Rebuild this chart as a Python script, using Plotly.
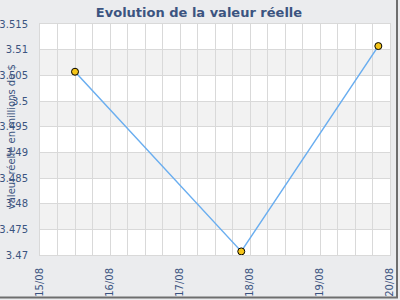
import plotly.graph_objects as go

dates = ["2011-08-15 12:00", "2011-08-17 21:00", "2011-08-19 20:00"]
values = [3.5057, 3.4707, 3.5107]
x_ticks = ["2011-08-15", "2011-08-16", "2011-08-17", "2011-08-18", "2011-08-19", "2011-08-20"]
x_tick_labels = ["15/08", "16/08", "17/08", "18/08", "19/08", "20/08"]
y_ticks = [3.47, 3.475, 3.48, 3.485, 3.49, 3.495, 3.5, 3.505, 3.51, 3.515]
y_tick_labels = ["3.47", "3.475", "3.48", "3.485", "3.49", "3.495", "3.5", "3.505", "3.51", "3.515"]

TXT = "#3b5480"
FONT = "DejaVu Sans"

fig = go.Figure()
fig.add_trace(go.Scatter(
    x=dates, y=values, mode="lines+markers",
    line=dict(color="#6aaef0", width=1.5),
    marker=dict(color="#f5c518", size=7, line=dict(color="#000000", width=1)),
    hoverinfo="x+y",
))

shapes = []
for i in range(len(y_ticks) - 1):
    if i % 2 == 1:
        shapes.append(dict(type="rect", xref="paper", yref="y", x0=0, x1=1,
                           y0=y_ticks[i], y1=y_ticks[i + 1],
                           fillcolor="#f2f2f2", line=dict(width=0), layer="below"))
# outer border shadow (right & bottom), in pixel-based paper fractions
PW, PH = 350.0, 231.0
shapes.append(dict(type="line", xref="paper", yref="paper", x0=-40 / PW, x1=358 / PW,
                   y0=-42.5 / PH, y1=-42.5 / PH, line=dict(color="#6e6e6e", width=2)))
shapes.append(dict(type="line", xref="paper", yref="paper", x0=357 / PW, x1=357 / PW,
                   y0=24 / PH + 1, y1=-43 / PH, line=dict(color="#6e6e6e", width=2)))

fig.update_layout(
    width=400, height=300,
    margin=dict(l=40, r=10, t=24, b=45, autoexpand=False),
    paper_bgcolor="#ebecee", plot_bgcolor="#ffffff",
    showlegend=False,
    shapes=shapes,
    title=dict(text="<b>Evolution de la valeur réelle</b>", x=0.4975, xanchor="center",
               y=0.958, yanchor="middle", yref="container",
               font=dict(family=FONT, size=13, color=TXT)),
    xaxis=dict(
        type="date", range=[x_ticks[0], x_ticks[-1]],
        tickvals=x_ticks, ticktext=x_tick_labels, tickangle=-90,
        tickfont=dict(family=FONT, size=10, color=TXT),
        showgrid=True, gridcolor="#d9d9d9", gridwidth=1,
        minor=dict(dtick=6 * 3600 * 1000, showgrid=True, gridcolor="#d9d9d9", gridwidth=1),
        showline=True, linecolor="#d9d9d9", mirror=True, zeroline=False,
        ticks="", ticklabelstandoff=8, automargin=False,
    ),
    yaxis=dict(
        range=[y_ticks[0], y_ticks[-1]],
        tickvals=y_ticks, ticktext=y_tick_labels,
        tickfont=dict(family=FONT, size=10, color=TXT),
        showgrid=True, gridcolor="#d9d9d9", gridwidth=1,
        showline=True, linecolor="#d9d9d9", mirror=True, zeroline=False,
        ticks="", ticklabelstandoff=9, automargin=False,
    ),
    annotations=[dict(
        text="valeur réelle en millions de $", textangle=-90,
        xref="paper", yref="paper", x=-29 / PW, y=0.51, xanchor="center", yanchor="middle",
        showarrow=False, font=dict(family=FONT, size=10, color=TXT),
    )],
)

fig.write_html("out.html")
